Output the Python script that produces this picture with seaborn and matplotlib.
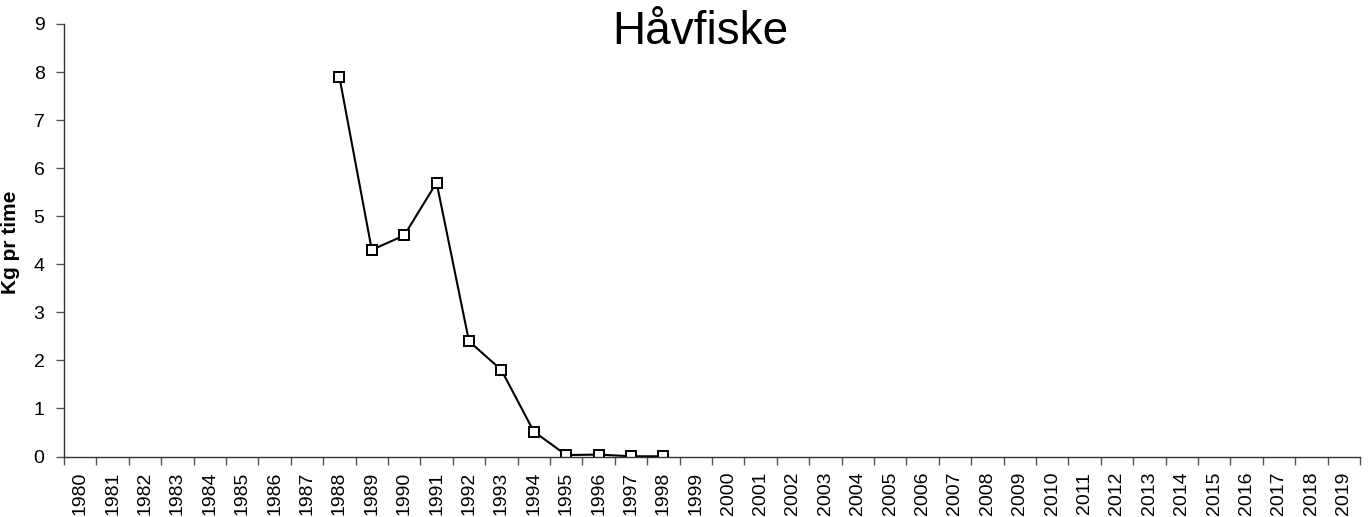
import matplotlib
matplotlib.use("Agg")
import matplotlib.pyplot as plt
import seaborn as sns
import numpy as np
import pandas as pd

years_axis = list(range(1980, 2020))
data_years = [1988, 1989, 1990, 1991, 1992, 1993, 1994, 1995, 1996, 1997, 1998]
kg_pr_time = [7.9, 4.3, 4.6, 5.7, 2.4, 1.8, 0.52, 0.03, 0.04, 0.005, 0.005]
title = "Håvfiske"
ylabel = "Kg pr time"

sns.set_theme(style="white")
plt.rcParams['font.family'] = ['Liberation Sans', 'DejaVu Sans']
plt.rcParams['text.color'] = 'black'
plt.rcParams['axes.labelcolor'] = 'black'
plt.rcParams['xtick.color'] = 'black'
plt.rcParams['ytick.color'] = 'black'

df = pd.DataFrame({"year": data_years, "kg": kg_pr_time})

fig = plt.figure(figsize=(13.7, 5.17), dpi=100)
ax = fig.add_axes([0.0467, 0.117, 0.946, 0.8366])

sns.lineplot(data=df, x="year", y="kg", ax=ax, color="black", linewidth=1.5,
             marker="s", markersize=7.5, markerfacecolor="white",
             markeredgecolor="black", markeredgewidth=1.4)

ax.set_xlim(years_axis[0] - 0.5, years_axis[-1] + 0.5)
ax.set_ylim(0, 9)
ax.set_yticks(range(0, 10))
ax.set_xticks([y - 0.5 for y in years_axis] + [years_axis[-1] + 0.5])
ax.set_xticklabels([])
ax.set_xticks(years_axis, minor=True)
ax.set_xticklabels([str(y) for y in years_axis], minor=True, rotation=90, fontsize=14)
ax.tick_params(axis="x", which="major", direction="out", length=6, width=1, color="#555555", bottom=True)
ax.tick_params(axis="x", which="minor", length=0, pad=11, bottom=True)
ax.tick_params(axis="y", direction="out", length=6, width=1, color="#555555", labelsize=14, left=True, pad=8)

for s in ["top", "right"]:
    ax.spines[s].set_visible(False)
for s in ["left", "bottom"]:
    ax.spines[s].set_color("#333333")
    ax.spines[s].set_linewidth(1)

ax.set_xlabel("")
ax.set_ylabel(ylabel, fontsize=15, fontweight="bold")
ax.yaxis.set_label_coords(-0.034, 0.495)
fig.text(0.511, 0.938, title, ha="center", va="center", fontsize=33)

fig.savefig("out.png", dpi=100)
